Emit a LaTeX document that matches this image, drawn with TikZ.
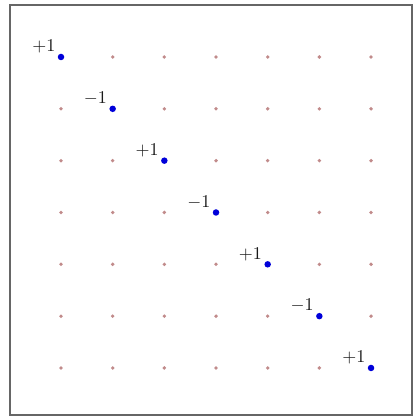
\documentclass[tikz,border=0pt]{standalone}
\usepackage{amsmath,amssymb}
\usepackage{xcolor}
\usepackage{tikz}
\usetikzlibrary{positioning}

\begin{document}
\begin{tikzpicture}[x=1pt,y=-1pt,
    gridpt/.style={circle,fill=red!30!gray!70,inner sep=0pt,minimum size=3.8pt},
    diagpt/.style={circle,fill=blue!85!black,inner sep=0pt,minimum size=6.5pt},
    sign/.style={inner sep=0.5pt,scale=1.8,text=black!90}]
    \useasboundingbox (0,0) rectangle (417,419);
    \draw[gray!80!black,line width=1.6pt] (10,5) rectangle (412,415);
    % off-diagonal lattice points
    \foreach \i in {0,...,6} {
      \foreach \j in {0,...,6} {
        \ifnum\i=\j\else
          \node[gridpt] (p-\i-\j) at ({61+51.67*\i},{57+51.83*\j}) {};
        \fi
      }
    }
    % diagonal entries with alternating signs
    \foreach \i/\s in {0/+1, 1/-1, 2/+1, 3/-1, 4/+1, 5/-1, 6/+1} {
      \node[diagpt] (d\i) at ({61+51.67*\i},{57+51.83*\i}) {};
      \node[sign, above left=0pt and 2pt of d\i] (s\i) {$\s$};
    }
  \end{tikzpicture}
\end{document}
